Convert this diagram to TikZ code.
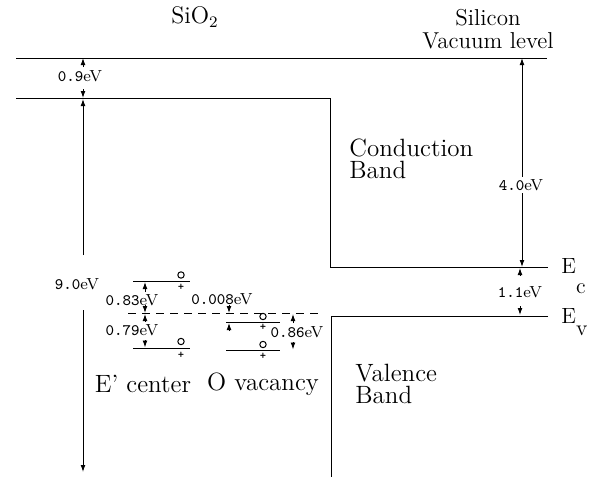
\documentclass[tikz,border=0pt]{standalone}
\usetikzlibrary{arrows.meta}
\tikzset{
  lvl/.style={line width=0.5pt},
  tip/.style={-{Latex[length=3.5pt,width=2.4pt]},line width=0.45pt},
  evlbl/.style={font=\fontsize{8}{9}\selectfont,inner sep=1pt},
  titlelbl/.style={font=\fontsize{11.5}{11}\selectfont,inner sep=0pt},
  bandlbl/.style={font=\fontsize{12.5}{11}\selectfont,align=left,inner sep=0pt},
  empty/.style={circle,draw,line width=0.5pt,inner sep=0pt,minimum size=3.2pt},
  hole/.style={font=\fontsize{6}{6}\selectfont\ttfamily\bfseries,inner sep=0pt}
}
\newcommand{\evval}[1]{{\ttfamily #1}eV}
\begin{document}
\begin{tikzpicture}[x=0.5pt,y=-0.5pt]
\useasboundingbox (0,0) rectangle (590,477);
% titles
\node[titlelbl,font=\fontsize{12}{11}\selectfont] (sio2) at (195,17) {SiO$_2$};
\node[titlelbl] (si) at (488,18) {Silicon};
\node[titlelbl] (vac) at (488,41) {Vacuum level};
% band edges
\coordinate (vacL) at (16,58); \coordinate (vacR) at (547,58);
\coordinate (oxL) at (16,98); \coordinate (oxR) at (330,98);
\coordinate (ecL) at (330,267); \coordinate (ecR) at (548,267);
\coordinate (evL) at (331,316); \coordinate (evR) at (548,316);
\coordinate (evB) at (331,477);
\draw[lvl] (vacL) -- (vacR);
\draw[lvl] (oxL) -- (oxR) -- (ecL) -- (ecR);
\draw[lvl] (evR) -- (evL) -- (evB);
\node[font=\fontsize{11}{11}\selectfont,anchor=base west,inner sep=0pt] (ec) at (561,273) {E\raisebox{-10pt}{c}};
\node[font=\fontsize{11}{11}\selectfont,anchor=base west,inner sep=0pt] (ev) at (561,323) {E\raisebox{-6pt}{v}};
\node[bandlbl,anchor=west] (cb) at (349,159) {Conduction\\Band};
\node[bandlbl,anchor=west] (vb) at (355,384) {Valence\\Band};
% 0.9 eV and 9.0 eV
\node[evlbl] (d09) at (80,76) {\evval{0.9}};
\draw[tip] (83,67) -- (83,58);
\draw[tip] (83,89) -- (83,98);
\node[evlbl] (d90) at (77,284) {\evval{9.0}};
\coordinate (d90a) at (83,255); \coordinate (d90b) at (83,310);
\draw[tip] (d90a) -- (83,99);
\draw[tip] (d90b) -- (83,472);
% 4.0 eV and 1.1 eV
\node[evlbl] (d40) at (521,185) {\evval{4.0}};
\draw[tip] (d40.north -| 522,0) -- (522,58);
\draw[tip] (d40.south -| 522,0) -- (522,267);
\node[evlbl] (d11) at (520,292) {\evval{1.1}};
\draw[tip] (520,276) -- (520,268);
\draw[tip] (520,306) -- (520,315);
% defect levels
\draw[lvl] (133,281) -- (190,281);
\draw[lvl] (133,348) -- (190,348);
\draw[lvl] (226,322) -- (280,322);
\draw[lvl] (226,350) -- (280,350);
\draw[lvl,dash pattern=on 4pt off 3pt] (128,313.5) -- (322,313.5);
\foreach \x/\ya/\yb in {181/275/287.5,181/341.5/355,263/316.5/327.5,263/344.5/356.5} {
  \node[empty] at (\x,\ya) {};
  \node[hole] at (\x,\yb) {+};
}
% E' center gaps
\node[evlbl] (d083) at (132,300) {\evval{0.83}};
\draw[tip] (145,292) -- (145,282);
\draw[tip] (145,305) -- (145,313);
\node[evlbl] (d079) at (132,330) {\evval{0.79}};
\draw[tip] (145,322) -- (145,314);
\draw[tip] (145,340) -- (145,347.5);
% O vacancy gaps
\node[evlbl] (d0008) at (222,299) {\evval{0.008}};
\draw[tip] (229,305) -- (229,313);
\draw[tip] (229,331) -- (229,323);
\node[evlbl] (d086) at (297,332) {\evval{0.86}};
\draw[tip] (293,323) -- (293,314);
\draw[tip] (293,342) -- (293,349.5);
\node[bandlbl] (ecen) at (143,384) {E' center};
\node[bandlbl] (ovac) at (263,384) {O vacancy};
\end{tikzpicture}
\end{document}
